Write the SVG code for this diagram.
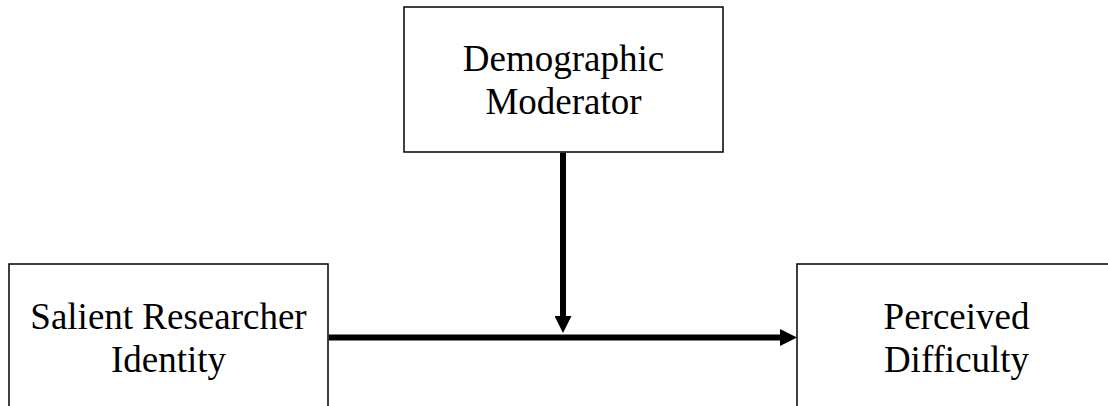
<svg xmlns="http://www.w3.org/2000/svg" width="1108" height="406" viewBox="0 0 1108 406">
<style>
.box{fill:#fff;stroke:#000;stroke-width:1.5}
.lbl{font-family:"Liberation Serif","Times New Roman",serif;font-size:37px;fill:#000;text-anchor:middle}
.conn{stroke:#000;stroke-width:6;fill:none}
</style>
<defs>
<marker id="ah" markerUnits="userSpaceOnUse" markerWidth="17" markerHeight="17" refX="5" refY="8.5" orient="auto" viewBox="0 0 17 17">
<path d="M0,0 L17,8.5 L0,17 z" fill="#000"/>
</marker>
</defs>
<rect width="1108" height="406" fill="#fff"/>
<g id="demographic-moderator">
<rect class="box" x="404" y="7" width="319" height="145"/>
<text class="lbl" x="563.5" y="70.5">Demographic</text>
<text class="lbl" x="563.5" y="114">Moderator</text>
</g>
<g id="salient-researcher-identity">
<rect class="box" x="9" y="264" width="319" height="160"/>
<text class="lbl" x="168.5" y="329">Salient Researcher</text>
<text class="lbl" x="168.5" y="372">Identity</text>
</g>
<g id="perceived-difficulty">
<rect class="box" x="797" y="264" width="319" height="160"/>
<text class="lbl" x="956.5" y="329">Perceived</text>
<text class="lbl" x="956.5" y="372">Difficulty</text>
</g>
<g id="connectors">
<line class="conn" x1="328.75" y1="337.5" x2="785" y2="337.5" marker-end="url(#ah)"/>
<line class="conn" x1="563" y1="152.75" x2="563" y2="321" marker-end="url(#ah)"/>
</g>
</svg>
